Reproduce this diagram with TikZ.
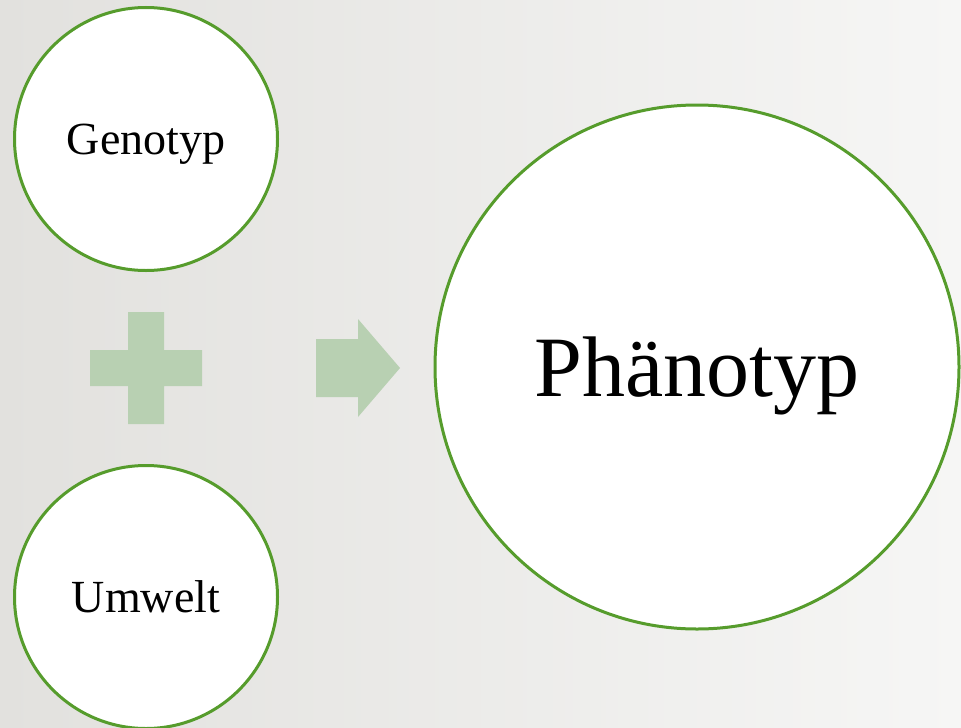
\documentclass[tikz,border=0pt]{standalone}
\usepackage{fontspec}
\setmainfont{Liberation Serif}
\usepackage{xcolor}
\usepackage{tikz}

\definecolor{ringgreen}{RGB}{86,156,44}
\definecolor{signgreen}{RGB}{184,208,178}
\definecolor{bgleft}{RGB}{226,225,222}
\definecolor{bgright}{RGB}{246,246,245}

\tikzset{
    ring/.style={circle, draw=ringgreen, line width=3pt, fill=white,
        inner sep=0pt, text depth=0pt},
    sign/.style={fill=signgreen, draw=none}
}

\begin{document}
\begin{tikzpicture}[x=1pt, y=-1pt, every node/.style={scale=1}]
        \shade[left color=bgleft, right color=bgright] (0,0) rectangle (961,728);
        \useasboundingbox (0,0) rectangle (961,728);
        \node[ring, minimum size=263pt, font=\fontsize{46}{52}\selectfont]
        (genotyp) at (146,139) {Genotyp};
        \node[ring, minimum size=263pt, font=\fontsize{46}{52}\selectfont]
        (umwelt) at (146,597) {Umwelt};
        \node[ring, minimum size=524pt, font=\fontsize{86}{96}\selectfont]
        (phaenotyp) at (697,367) {Phänotyp};
        \fill[sign, xshift=146pt, yshift=-368pt]
        (-56,-18) -- (-18,-18) -- (-18,-56) -- (18,-56) -- (18,-18)
        -- (56,-18) -- (56,18) -- (18,18) -- (18,56) -- (-18,56)
        -- (-18,18) -- (-56,18) -- cycle;
        \fill[sign, xshift=316pt, yshift=-368pt]
        (0,-29) -- (42,-29) -- (42,-49) -- (84,0) -- (42,49)
        -- (42,29) -- (0,29) -- cycle;
    \end{tikzpicture}
\end{document}
